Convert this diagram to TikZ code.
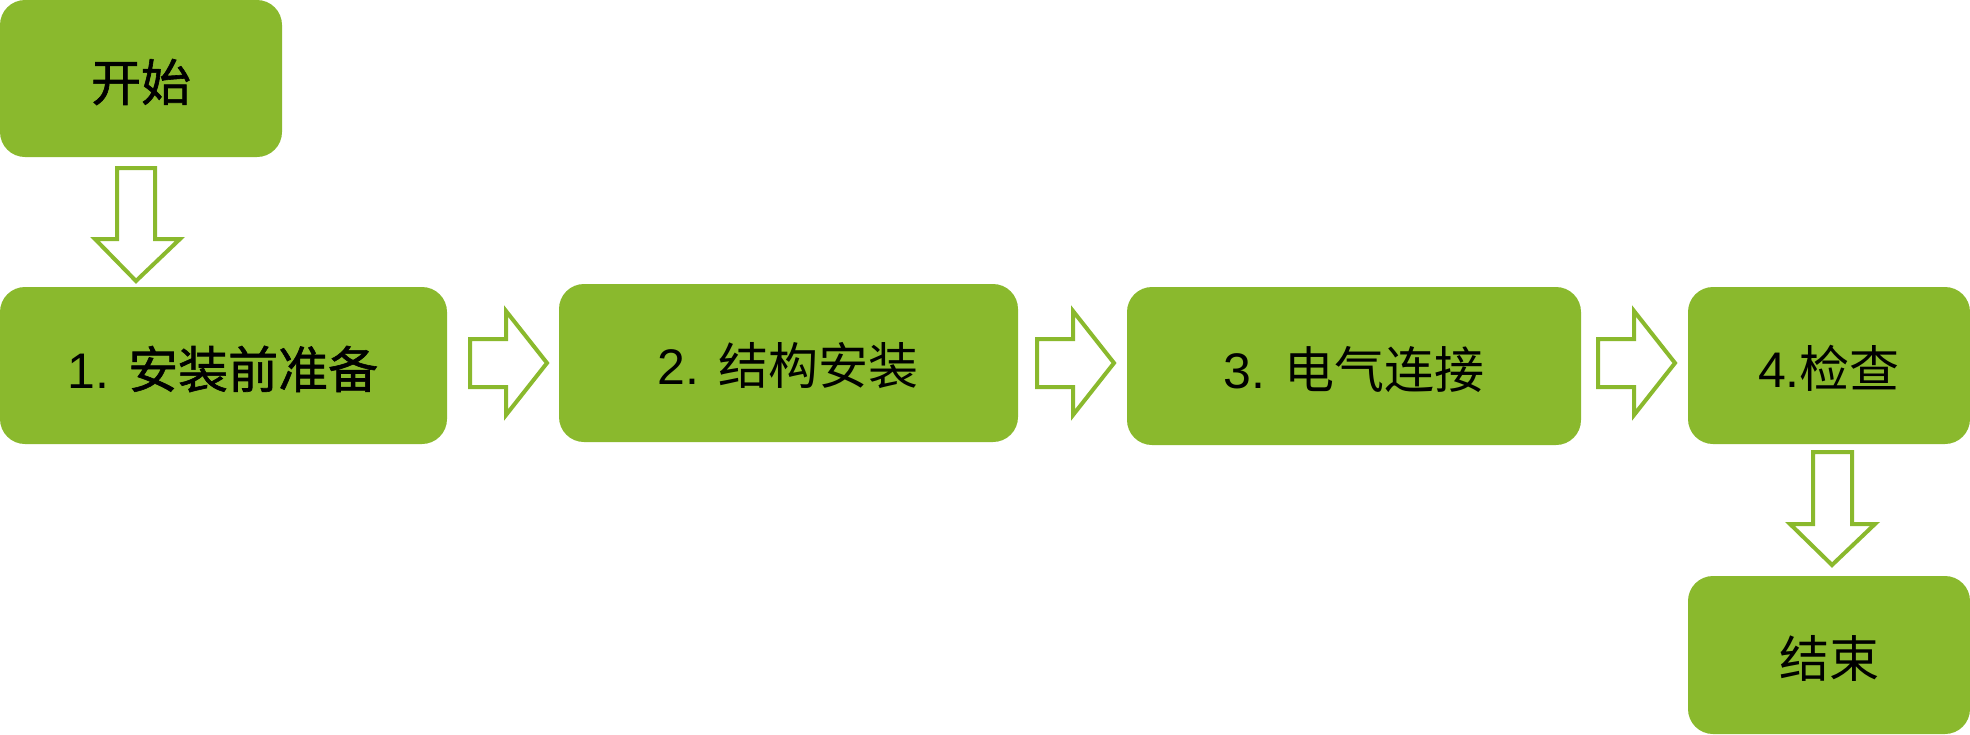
\documentclass[tikz,border=0pt]{standalone}
\usepackage{fontspec}
\setmainfont{Liberation Sans}
\newfontfamily\cjk{Noto Sans CJK SC}
\newfontfamily\cjkheavy[FakeBold=1.2]{Noto Sans CJK SC}
\definecolor{leaf}{HTML}{8AB92D}
\begin{document}
\begin{tikzpicture}[x=1pt,y=-1pt,
  stepbox/.style={fill=leaf,rounded corners=25pt},
  hollow/.style={draw=leaf,line width=4pt,fill=white,line join=miter},
  lbl/.style={font=\fontsize{50}{56}\selectfont,text=black}]
\useasboundingbox (0,0) rectangle (1970,734);
% boxes
\fill[stepbox] (0,0) rectangle (282,157);
\node[lbl] (start) at (141,82) {\cjkheavy 开始};
\fill[stepbox] (0,287) rectangle (447,444);
\node[lbl] (s1) at (223,369) {1. {\cjkheavy 安装前准备}};
\fill[stepbox] (559,284) rectangle (1018,442);
\node[lbl] (s2) at (788,366) {2. {\cjk 结构安装}};
\fill[stepbox] (1127,287) rectangle (1581,445);
\node[lbl] (s3) at (1354,369) {3. {\cjk 电气连接}};
\fill[stepbox] (1688,287) rectangle (1970,444);
\node[lbl] (s4) at (1829,368) {4.{\cjk 检查}};
\fill[stepbox] (1688,576) rectangle (1970,734);
\node[lbl] (end) at (1829,658) {\cjk 结束};
% hollow block arrows
\draw[hollow] (117,168) -- (155,168) -- (155,239) -- (180,239) -- (136,281) -- (95,239) -- (117,239) -- cycle;
\foreach \x in {470,1037,1598}{
  \draw[hollow] (\x,339) -- (\x+36,339) -- (\x+36,311) -- (\x+77,363) -- (\x+36,415) -- (\x+36,387) -- (\x,387) -- cycle;
}
\draw[hollow] (1813,452) -- (1852,452) -- (1852,524) -- (1875,524) -- (1832,565) -- (1790,524) -- (1813,524) -- cycle;
\end{tikzpicture}
\end{document}
